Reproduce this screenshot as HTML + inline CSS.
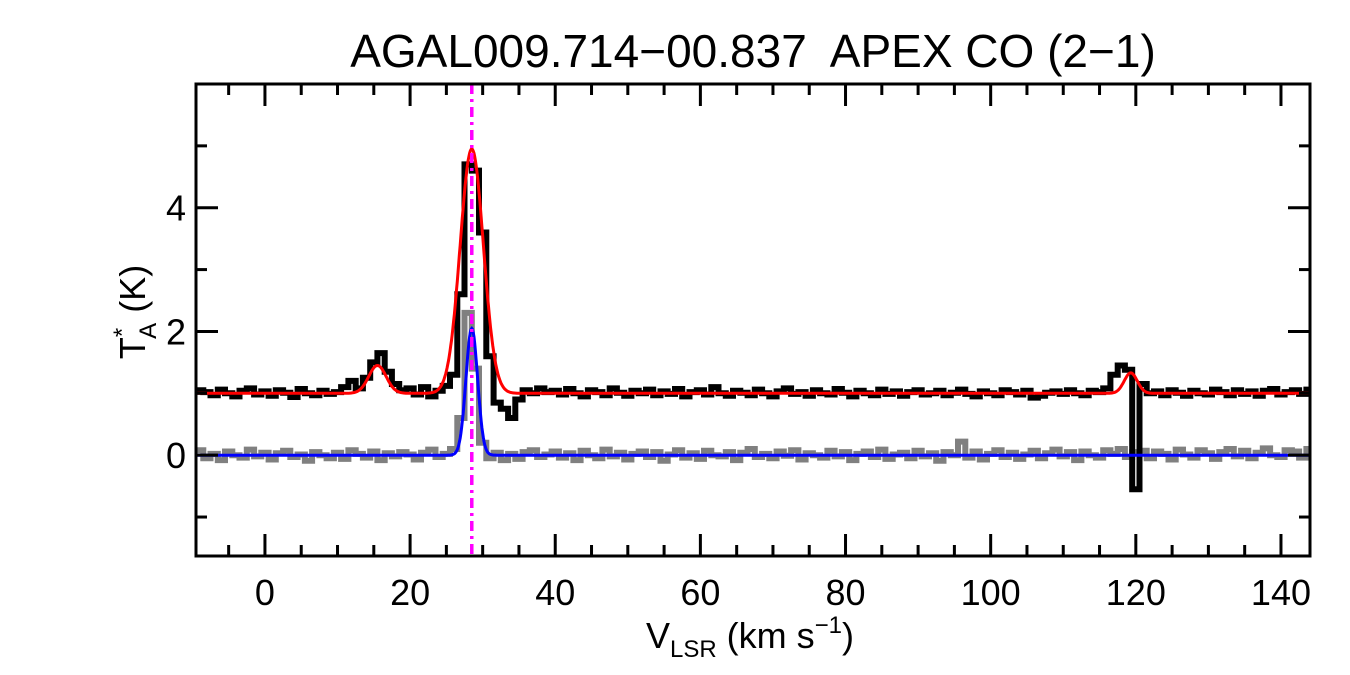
<!DOCTYPE html>
<html><head><meta charset="utf-8"><style>
body{margin:0;background:#fff;}
svg{display:block;font-family:"Liberation Sans",sans-serif;}
</style></head><body>
<svg id="chart" width="1350" height="675" viewBox="0 0 1350 675">
<text x="753" y="67" font-size="46" text-anchor="middle" style="white-space:pre">AGAL009.714−00.837  APEX CO (2−1)</text>
<g id="plot"></g>
<g id="axes"></g>
<text transform="translate(145,312) rotate(-90)" font-size="36" text-anchor="middle">T<tspan font-size="24" dy="-15">*</tspan><tspan font-size="24" dx="-11" dy="26">A</tspan><tspan dy="-11"> (K)</tspan></text>
<text x="750" y="648" font-size="36" text-anchor="middle">V<tspan font-size="24" dy="9">LSR</tspan><tspan dy="-9"> (km s</tspan><tspan font-size="24" dy="-15">−1</tspan><tspan dy="15">)</tspan></text>
</svg>
<script>
const vStart = -9;
const observed = [1.05,1.02,0.97,1.06,1.0,0.95,1.04,1.08,0.98,1.03,0.96,1.05,1.01,0.94,1.07,1.0,0.97,1.04,0.99,
1.02,1.1,1.2,1.08,1.25,1.5,1.65,1.35,1.15,1.05,
1.08,0.98,1.1,0.95,1.04,1.12,1.3,2.6,
4.7,4.6,3.6,1.6,0.85,0.75,
0.6,0.9,1.05,1.0,1.08,1.02,
1.04,0.98,1.07,1.0,0.95,1.05,1.02,0.97,1.08,1.01,
0.96,1.04,1.0,1.06,0.97,1.03,0.99,1.07,0.95,1.02,
1.05,0.98,1.1,1.0,0.96,1.04,1.01,0.97,1.06,1.0,
0.95,1.03,1.08,0.99,1.02,0.96,1.05,1.0,0.98,1.07,
1.01,0.95,1.04,1.0,0.97,1.06,0.99,1.03,0.96,1.02,
1.05,0.98,1.0,1.04,0.97,1.01,1.06,0.99,0.95,1.03,
1.0,0.97,1.05,1.02,0.98,1.04,0.93,0.96,1.01,1.03,
0.99,1.05,1.0,0.97,1.04,1.02,1.08,
1.3,1.45,1.38,-0.55,1.15,
1.0,1.03,0.97,1.05,1.01,0.96,1.04,1.0,0.98,1.06,1.02,0.97,1.05,0.99,1.03,0.96,1.04,1.07,0.98,1.02,1.05,0.99,1.06];
const residual = [0.08,-0.05,0.02,-0.08,0.06,0.0,-0.04,0.09,-0.02,0.04,-0.07,0.03,0.07,-0.03,0.01,-0.09,0.05,0.0,-0.05,
0.04,-0.06,0.08,0.02,-0.04,0.06,-0.08,0.03,-0.02,0.05,
0.01,-0.07,0.04,0.09,-0.03,0.02,0.1,0.6,
2.3,1.4,0.2,-0.05,0.04,-0.08,
0.02,-0.06,0.05,0.08,-0.03,0.01,
0.06,-0.04,0.03,-0.08,0.07,0.0,-0.05,0.09,-0.02,0.04,
-0.07,0.02,0.06,-0.03,0.05,-0.09,0.01,0.08,-0.04,0.03,
-0.06,0.07,0.0,-0.02,0.05,-0.08,0.04,0.1,-0.03,0.02,
-0.05,0.06,-0.01,0.08,-0.07,0.03,0.0,-0.04,0.07,-0.02,
0.05,-0.08,0.02,0.06,-0.03,0.09,-0.06,0.01,0.04,-0.05,
0.07,-0.02,0.03,-0.09,0.05,0.0,0.22,-0.04,0.06,-0.07,
0.02,0.08,-0.03,0.04,-0.06,0.01,0.07,-0.05,0.03,0.09,
-0.02,0.05,-0.08,0.06,0.0,-0.04,0.08,
0.02,0.1,-0.03,0.05,0.07,
-0.05,0.06,0.02,-0.07,0.09,0.01,-0.04,0.08,0.03,-0.06,0.05,0.1,-0.02,0.07,-0.05,0.04,0.11,0.0,-0.03,0.08,0.06,-0.04,0.1];
const fitBaseline = 1.0;
const fitAmps = [0.45, 3.95, 0.33];
const fitCenters = [15.5, 28.5, 119.3];
const fitSigmas = [1.2, 1.6, 0.9];
const resAmps = [2.05];
const resCenters = [28.5];
const resSigmas = [0.8];
const markerVelocity = 28.5;
const xTicks = [0,20,40,60,80,100,120,140];
const yTicks = [0,2,4];

const L=196,R=1310,T=84,B=556, xMin=-9.5,xMax=144,yMin=-1.63,yMax=6;
const X=v=>L+(v-xMin)/(xMax-xMin)*(R-L);
const Y=t=>B-(t-yMin)/(yMax-yMin)*(B-T);
const NS='http://www.w3.org/2000/svg';
const plot=document.getElementById('plot'), axes=document.getElementById('axes');
function mk(tag,parent,attrs){const e=document.createElementNS(NS,tag);for(const k in attrs)e.setAttribute(k,attrs[k]);parent.appendChild(e);return e;}
const clip=mk('clipPath',plot,{id:'cp'});mk('rect',clip,{x:L,y:T,width:R-L,height:B-T});
function stepPath(arr){let d='';arr.forEach((t,i)=>{const v=vStart+i;const x0=X(Math.max(v-0.5,xMin)),x1=X(Math.min(v+0.5,xMax));d+=(i?'L':'M')+x0.toFixed(1)+','+Y(t).toFixed(1)+'L'+x1.toFixed(1)+','+Y(t).toFixed(1);});return d;}
function gaussPath(base,A,C,S){let d='';for(let v=xMin;v<=xMax;v+=0.1){let t=base;for(let k=0;k<A.length;k++)t+=A[k]*Math.exp(-0.5*((v-C[k])/S[k])**2);d+=(d?'L':'M')+X(v).toFixed(1)+','+Y(t).toFixed(1);}return d;}
const g=mk('g',plot,{'clip-path':'url(#cp)'});
const p1=mk('path',g,{d:stepPath(residual),fill:'none',stroke:'#808080','stroke-width':6});


const p2=mk('path',g,{d:stepPath(observed),fill:'none',stroke:'#000','stroke-width':6});


const p3=mk('path',g,{d:gaussPath(fitBaseline,fitAmps,fitCenters,fitSigmas),fill:'none',stroke:'#ff0000','stroke-width':3});


const p4=mk('path',g,{d:gaussPath(0,resAmps,resCenters,resSigmas),fill:'none',stroke:'#0000ff','stroke-width':3});


const vl=mk('line',g,{x1:X(markerVelocity),x2:X(markerVelocity),y1:T,y2:B,stroke:'#ff00ff','stroke-width':3.5,'stroke-dasharray':'10,5,3,5'});


const fr=mk('rect',axes,{x:L,y:T,width:R-L,height:B-T,fill:'none',stroke:'#000','stroke-width':3});


for(let v=-5;v<=xMax;v+=5){const major=v%20===0,len=major?22:11,x=X(v);
mk('line',axes,{x1:x,x2:x,y1:B,y2:B-len,stroke:'#000','stroke-width':3});
mk('line',axes,{x1:x,x2:x,y1:T,y2:T+len,stroke:'#000','stroke-width':3});}
xTicks.forEach(v=>{const t=mk('text',axes,{x:X(v),y:605,'font-size':36,'text-anchor':'middle'});t.textContent=v;

});
for(let v=-1;v<=5;v++){const major=v%2===0,len=major?22:11,y=Y(v);
mk('line',axes,{x1:L,x2:L+len,y1:y,y2:y,stroke:'#000','stroke-width':3});
mk('line',axes,{x1:R,x2:R-len,y1:y,y2:y,stroke:'#000','stroke-width':3});}
yTicks.forEach(v=>{const t=mk('text',axes,{x:186,y:Y(v)+13,'font-size':36,'text-anchor':'end'});t.textContent=v;

});
</script>
</body></html>
